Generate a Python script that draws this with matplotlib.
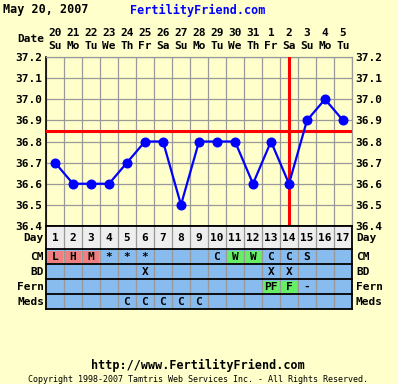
import matplotlib
matplotlib.use("Agg")
import matplotlib.pyplot as plt
from matplotlib.patches import Rectangle
from matplotlib.transforms import blended_transform_factory

# chart data
dates = ["20", "21", "22", "23", "24", "25", "26", "27", "28", "29", "30", "31",
         "1", "2", "3", "4", "5"]
weekdays = ["Su", "Mo", "Tu", "We", "Th", "Fr", "Sa", "Su", "Mo", "Tu", "We", "Th",
            "Fr", "Sa", "Su", "Mo", "Tu"]
cycle_days = list(range(1, 18))
temps = [36.7, 36.6, 36.6, 36.6, 36.7, 36.8, 36.8, 36.5, 36.8, 36.8, 36.8, 36.6,
         36.8, 36.6, 36.9, 37.0, 36.9]
temp_ticks = [36.4, 36.5, 36.6, 36.7, 36.8, 36.9, 37.0, 37.1, 37.2]
coverline = 36.85
ovulation_day = 14

cm = ["L", "H", "M", "*", "*", "*", "", "", "", "C", "W", "W", "C", "C", "S", "", ""]
bd = ["", "", "", "", "", "X", "", "", "", "", "", "", "X", "X", "", "", ""]
fern = ["", "", "", "", "", "", "", "", "", "", "", "", "PF", "F", "-", "", ""]
meds = ["", "", "", "", "C", "C", "C", "C", "C", "", "", "", "", "", "", "", ""]

BG = "#FFFFCC"
GRID = "#999999"
BLUE_ROW = "#88BBEE"
PINK = "#F08080"
GREEN = "#66EE66"
FONT = "DejaVu Sans Mono"

W, H = 398, 384
fig = plt.figure(figsize=(W / 100, H / 100), dpi=100, facecolor=BG)


def box(left, top, width, height):
    return [left / W, 1 - (top + height) / H, width / W, height / H]


# temperature chart
ax = fig.add_axes(box(46, 57, 306, 169))
ax.set_facecolor(BG)
ax.set_xlim(0.5, 17.5)
ax.set_ylim(36.4, 37.2)
ax.set_xticks([d + 0.5 for d in range(0, 18)])
ax.set_xticklabels([])
ax.set_yticks(temp_ticks)
ax.set_yticklabels([f"{t:.1f}" for t in temp_ticks])
ax.tick_params(axis="both", length=0)
ax.tick_params(axis="y", labelleft=True, labelright=True, pad=2.5)
for lbl in ax.get_yticklabels():
    lbl.set_fontfamily(FONT)
    lbl.set_fontweight("bold")
    lbl.set_fontsize(8)
ax.grid(True, color=GRID, lw=0.9)
ax.set_axisbelow(True)
for side in ["top", "right"]:
    ax.spines[side].set_color(GRID)
    ax.spines[side].set_linewidth(0.9)
for side in ["left", "bottom"]:
    ax.spines[side].set_color("black")
    ax.spines[side].set_linewidth(1.2)

ax.axhline(coverline, color="#FF0000", lw=2.2, zorder=3)
ax.axvline(ovulation_day, color="#FF0000", lw=2.2, zorder=3)
ax.plot(cycle_days, temps, color="#0000FF", lw=1.6, marker="o", markersize=6.2, zorder=4,
        clip_on=False)

# date header above chart
tr = blended_transform_factory(ax.transData, ax.transAxes)
for d, dt, wd in zip(cycle_days, dates, weekdays):
    ax.text(d, 1 + 24 / 169, dt, transform=tr, ha="center", va="center",
            fontfamily=FONT, fontweight="bold", fontsize=8)
    ax.text(d, 1 + 11 / 169, wd, transform=tr, ha="center", va="center",
            fontfamily=FONT, fontweight="bold", fontsize=8)
ax.text(0.5 - 2 / 18, 1 + 18 / 169, "Date", transform=tr, ha="right", va="center",
        fontfamily=FONT, fontweight="bold", fontsize=8)

# observation table below chart (y in pixel rows)
tab = fig.add_axes(box(46, 226, 306, 83))
tab.set_xlim(0.5, 17.5)
tab.set_ylim(309, 226)
tab.axis("off")

rows = [
    ("Day", [str(d) for d in cycle_days], 226, 249, "#EEEEEE", {}),
    ("CM", cm, 249, 264, BLUE_ROW, {"L": PINK, "H": PINK, "M": PINK, "W": GREEN}),
    ("BD", bd, 264, 279, BLUE_ROW, {}),
    ("Fern", fern, 279, 294, BLUE_ROW, {"PF": GREEN, "F": GREEN}),
    ("Meds", meds, 294, 309, BLUE_ROW, {}),
]
for label, vals, top, bot, color, hl in rows:
    tab.add_patch(Rectangle((0.5, top), 17, bot - top, facecolor=color, edgecolor="none",
                            zorder=1))
    mid = (top + bot) / 2
    for d, v in zip(cycle_days, vals):
        if v in hl:
            tab.add_patch(Rectangle((d - 0.42, top + 2), 0.84, bot - top - 3.5,
                                    facecolor=hl[v], edgecolor="none", zorder=2))
        if v:
            tab.text(d, mid + 0.5, v, ha="center", va="center", fontfamily=FONT,
                     fontweight="bold", fontsize=8, zorder=4)
    tab.text(0.5 - 2 / 18, mid + 0.5, label, ha="right", va="center", fontfamily=FONT,
             fontweight="bold", fontsize=8, clip_on=False)
    tab.text(17.5 + 4 / 18, mid + 0.5, label, ha="left", va="center", fontfamily=FONT,
             fontweight="bold", fontsize=8, clip_on=False)

for x in range(1, 17):
    tab.plot([x + 0.5, x + 0.5], [226, 309], color=GRID, lw=0.9, zorder=3)
for y in [226, 249, 264, 279, 294, 309]:
    tab.plot([0.5, 17.5], [y, y], color="black", lw=1.3, zorder=3, clip_on=False)
tab.plot([0.5, 0.5], [226, 309], color="black", lw=1.3, zorder=3, clip_on=False)
tab.plot([17.5, 17.5], [226, 309], color="black", lw=1.3, zorder=3, clip_on=False)

# header and footer
fig.text(3 / W, 1 - 10 / H, "May 20, 2007", ha="left", va="center", fontfamily=FONT,
         fontweight="bold", fontsize=8.5)
fig.text(198 / W, 1 - 10 / H, "FertilityFriend.com", ha="center", va="center",
         fontfamily=FONT, fontweight="bold", fontsize=8.5, color="#0000FF")
fig.text(198 / W, 1 - 365 / H, "http://www.FertilityFriend.com", ha="center", va="center",
         fontfamily=FONT, fontweight="bold", fontsize=8.5)
fig.text(198 / W, 1 - 380 / H,
         "Copyright 1998-2007 Tamtris Web Services Inc. - All Rights Reserved.",
         ha="center", va="center", fontfamily=FONT, fontsize=6.0)

fig.savefig("out.png", dpi=100, facecolor=BG)
